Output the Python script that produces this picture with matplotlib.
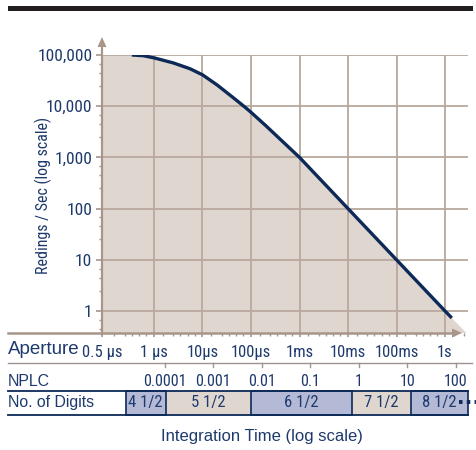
import matplotlib
matplotlib.use('Agg')
import matplotlib.pyplot as plt
import numpy as np
from matplotlib.patches import Rectangle, Polygon
from matplotlib.lines import Line2D
from matplotlib.transforms import blended_transform_factory
import matplotlib.ticker as mticker

# ---------------- data ----------------
time_s = [3.5e-7, 6e-7, 1e-6, 2.5e-6, 5.5e-6, 1e-5, 2e-5, 4e-5, 7.5e-5, 1e-4,
          2e-4, 1e-3, 1e-2, 1e-1, 1.0, 1.38]
readings = [100000, 97000, 88000, 70000, 54000, 41000, 26000, 15500, 9600, 7600,
            4200, 1000, 100, 10, 1, 0.73]

y_ticks = [1, 10, 100, 1000, 10000, 100000]
y_tick_labels = ['1', '10', '100', '1,000', '10,000', '100,000']

aperture_ticks = [1e-6, 1e-5, 1e-4, 1e-3, 1e-2, 1e-1, 1]
aperture_labels = ['1 µs', '10µs', '100µs', '1ms', '10ms', '100ms', '1s']
aperture_min_label = '0.5 µs'

nplc_values = [0.0001, 0.001, 0.01, 0.1, 1, 10, 100]
nplc_labels = ['0.0001', '0.001', '0.01', '0.1', '1', '10', '100']
line_freq_hz = 60

digit_labels = ['4 1/2', '5 1/2', '6 1/2', '7 1/2', '8 1/2']
digit_edges_s = [2.6e-7, 1.75e-6, 1e-4, 1.2e-2, 0.195, 2.98]
digit_highlight = [True, False, True, False, True]

# ---------------- style ----------------
NARROW = ['Roboto Condensed', 'Liberation Sans Narrow', 'Liberation Sans', 'DejaVu Sans']
REG = ['Liberation Sans', 'DejaVu Sans']
plt.rcParams['font.family'] = NARROW

NAVY_TXT = '#1e3a6c'
NAVY = '#0c2957'
BEIGE = '#e0d6d0'
GRID = '#b9a89d'
AXIS = '#a8968a'
BLUE = '#b4b9d6'
SEP = '#a09290'

W, H = 477, 450
def fx(x): return x / W
def fy(y): return 1 - y / H

fig = plt.figure(figsize=(W / 100, H / 100), dpi=100)

# top black bar
fig.add_artist(Rectangle((fx(8), fy(11)), fx(473) - fx(8), fy(6) - fy(11),
                         transform=fig.transFigure, color='#231f20', lw=0))

ax = fig.add_axes([fx(102), fy(333), fx(468) - fx(102), fy(55) - fy(333)])
ax.set_xscale('log')
ax.set_yscale('log')
xmin, xmax = 10 ** -7.072, 10 ** 0.474
ymin, ymax = 10 ** -0.43, 1e5
ax.set_xlim(xmin, xmax)
ax.set_ylim(ymin, ymax)
for s in ax.spines.values():
    s.set_visible(False)

# fill under the curve (extended along last slope down to the axis)
lt = np.log10(time_s)
lr = np.log10(readings)
slope = (lr[-1] - lr[-2]) / (lt[-1] - lt[-2])
t_end = 10 ** (lt[-1] + (np.log10(ymin) - lr[-1]) / slope)
poly_x = [xmin] + list(time_s) + [t_end, xmin]
poly_y = [readings[0]] + list(readings) + [ymin, ymin]
ax.fill(poly_x, poly_y, color=BEIGE, lw=0, zorder=0.5)

# ticks & grid
ax.set_xticks([xmin] + aperture_ticks)
ax.set_xticklabels([aperture_min_label] + aperture_labels)
ax.set_yticks(y_ticks)
ax.set_yticklabels(y_tick_labels)
ax.xaxis.set_minor_locator(mticker.LogLocator(base=10, subs=[1.5, 2.5, 3.5, 5, 7], numticks=50))
ax.yaxis.set_minor_locator(mticker.LogLocator(base=10, subs=[2.5, 4.5, 6.7], numticks=50))
ax.xaxis.set_minor_formatter(mticker.NullFormatter())
ax.yaxis.set_minor_formatter(mticker.NullFormatter())
for t in aperture_ticks:
    ax.axvline(t, color=GRID, lw=1.3, zorder=1)
for v in y_ticks:
    ax.axhline(v, color=GRID, lw=1.3, zorder=1)

ax.tick_params(axis='y', which='major', length=4, width=1.2, color=AXIS, pad=3,
               labelcolor=NAVY_TXT, labelsize=12.5)
ax.tick_params(axis='y', which='minor', length=2.2, width=1.0, color=AXIS)
ax.tick_params(axis='x', which='major', length=3, width=1.2, color=AXIS, pad=5.5,
               labelcolor=NAVY_TXT, labelsize=12)
ax.tick_params(axis='x', which='minor', length=2, width=1.0, color=AXIS)
# the left-edge label sits slightly right of the axis corner
xl = ax.get_xticklabels()
xl[0].set_horizontalalignment('center')

# curve
ax.plot(time_s, readings, color=NAVY, lw=2.4, solid_capstyle='butt', zorder=5)

# axes lines with arrows
fig.add_artist(Line2D([fx(102), fx(102)], [fy(334), fy(46)], transform=fig.transFigure,
                      color=AXIS, lw=1.6, zorder=6))
fig.add_artist(Polygon([(fx(97.5), fy(47)), (fx(106.5), fy(47)), (fx(102), fy(37))],
                       closed=True, transform=fig.transFigure, color=AXIS, lw=0, zorder=6))
fig.add_artist(Line2D([fx(8), fx(453)], [fy(333), fy(333)], transform=fig.transFigure,
                      color=AXIS, lw=1.8, zorder=6))
fig.add_artist(Polygon([(fx(452), fy(328.5)), (fx(452), fy(337.5)), (fx(462), fy(333))],
                       closed=True, transform=fig.transFigure, color=AXIS, lw=0, zorder=6))

# axis labels
fig.text(fx(43), fy(195), 'Redings / Sec (log scale)', rotation=90, ha='center', va='center',
         color=NAVY_TXT, fontsize=11.5)
fig.text(fx(262), fy(437), 'Integration Time (log scale)', ha='center', va='center',
         color=NAVY_TXT, fontsize=12, family=REG)

# row labels
fig.text(fx(8), fy(350), 'Aperture', ha='left', va='center', color=NAVY_TXT,
         fontsize=13.5, family=REG)
fig.text(fx(8), fy(381), 'NPLC', ha='left', va='center', color=NAVY_TXT,
         fontsize=11.4, family=REG)
fig.text(fx(8), fy(403), 'No. of Digits', ha='left', va='center', color=NAVY_TXT,
         fontsize=11.4, family=REG)

trans = blended_transform_factory(ax.transData, fig.transFigure)

# NPLC row
fig.add_artist(Line2D([fx(8), fx(472)], [fy(363), fy(363)], transform=fig.transFigure,
                      color=SEP, lw=1.0))
for v, lab in zip(nplc_values, nplc_labels):
    t = v / line_freq_hz
    fig.add_artist(Line2D([t, t], [fy(363), fy(367)], transform=trans, color=SEP, lw=1.0,
                          clip_on=False))
    fig.text(t, fy(381), lab, transform=trans, ha='center', va='center',
             color=NAVY_TXT, fontsize=11.5)

# digits row
y0, y1 = fy(415), fy(391)
for i, lab in enumerate(digit_labels):
    a, b = digit_edges_s[i], digit_edges_s[i + 1]
    if digit_highlight[i]:
        r = Rectangle((a, y0), b - a, y1 - y0, transform=trans, facecolor=BLUE,
                      edgecolor=NAVY, lw=1.2, clip_on=False, zorder=3)
    else:
        r = Rectangle((a, y0), b - a, y1 - y0, transform=trans, facecolor=BEIGE,
                      edgecolor='none', lw=0, clip_on=False, zorder=2)
    fig.add_artist(r)
    fig.text(np.sqrt(a * b), (y0 + y1) / 2, lab, transform=trans, ha='center', va='center',
             color=NAVY_TXT, fontsize=12, zorder=4)
fig.add_artist(Line2D([fx(8), fx(468)], [fy(391), fy(391)], transform=fig.transFigure,
                      color=NAVY, lw=1.3, zorder=3.5))
fig.add_artist(Line2D([fx(8), fx(468)], [fy(415), fy(415)], transform=fig.transFigure,
                      color=NAVY, lw=1.3, zorder=3.5))
fig.add_artist(Line2D([fx(459), fx(476)], [fy(402), fy(402)], transform=fig.transFigure,
                      color=NAVY, lw=2.8, dashes=(0.9, 1.1), dash_capstyle='butt', zorder=5))

fig.savefig('out.png', dpi=100)
